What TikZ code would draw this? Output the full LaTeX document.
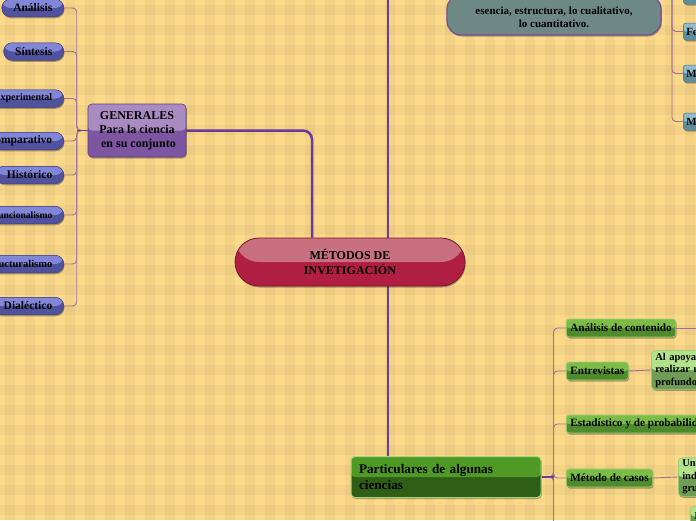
\documentclass[tikz,border=0pt]{standalone}
\usepackage{fontspec}
\setmainfont{Liberation Serif}
\usetikzlibrary{shadows}
\pgfdeclarelayer{bgpat}
\pgfdeclarelayer{conn}
\pgfsetlayers{bgpat,conn,main}
\definecolor{bgbase}{HTML}{FDDA8B}
\definecolor{mainline}{HTML}{6B3A9B}
\definecolor{subline}{HTML}{A0709A}
\definecolor{pilltop}{HTML}{8286D6}
\definecolor{pillbot}{HTML}{50529E}
\definecolor{pillborder}{HTML}{3E3F80}
\definecolor{gentop}{HTML}{A98BC1}
\definecolor{genbot}{HTML}{7E55A1}
\definecolor{genborder}{HTML}{5E3F80}
\definecolor{ctop}{HTML}{C86F80}
\definecolor{cbot}{HTML}{B01E41}
\definecolor{cborder}{HTML}{7A1530}
\definecolor{ptop}{HTML}{4F9A25}
\definecolor{pbot}{HTML}{2F5F17}
\definecolor{pborder}{HTML}{A6D67A}
\definecolor{gtop}{HTML}{7CBD48}
\definecolor{gbot}{HTML}{4E8B2C}
\definecolor{gborder}{HTML}{9ED070}
\definecolor{dtop}{HTML}{B2E28C}
\definecolor{dbot}{HTML}{6F9D55}
\definecolor{btop}{HTML}{93BDCC}
\definecolor{bbot}{HTML}{5E8E9C}
\definecolor{greyfill}{HTML}{6E8886}
\definecolor{greyborder}{HTML}{7A4A9A}
\tikzset{
  twotone/.style 2 args={fill=#2, path picture={\fill[#1] (path picture bounding box.north west) rectangle (path picture bounding box.east);}},
  shad/.style={drop shadow={shadow xshift=0.8pt, shadow yshift=-1.5pt, opacity=0.3, fill=black}},
  mainconn/.style={draw=mainline, line width=2.5pt},
  subconn/.style={draw=subline, line width=0.9pt, rounded corners=4},
  pill/.style={twotone={pilltop}{pillbot}, draw=pillborder, line width=0.5pt, rounded corners=8.5pt,
    minimum height=17.5pt, inner xsep=11.5pt, inner ysep=0pt, anchor=east, shad,
    font=\bfseries\fontsize{11.5}{13}\selectfont},
  gnode/.style={twotone={gtop}{gbot}, draw=gborder, line width=0.6pt, rounded corners=3pt,
    minimum height=18pt, inner xsep=4pt, inner ysep=0pt, anchor=west, shad,
    font=\bfseries\fontsize{11.2}{13}\selectfont},
  dnode/.style={twotone={dtop}{dbot}, draw=gborder, line width=0.5pt, rounded corners=4pt,
    inner xsep=4pt, inner ysep=2pt, anchor=west, align=left, shad,
    font=\bfseries\fontsize{10.5}{12.5}\selectfont},
  bnode/.style={twotone={btop}{bbot}, draw=bbot!80!black, line width=0.5pt, rounded corners=3pt,
    minimum height=17pt, text width=60pt, inner xsep=3pt, inner ysep=0pt, anchor=west, shad,
    font=\bfseries\fontsize{11}{13}\selectfont},
}
\begin{document}
\begin{tikzpicture}[x=1pt,y=-1pt]
\useasboundingbox (0,0) rectangle (696,520);
\clip (0,0) rectangle (696,520);
% background plaid
\begin{pgfonlayer}{bgpat}
\fill[bgbase] (0,0) rectangle (696,520);
\foreach \i in {0,...,34} { \fill[black,opacity=0.035] (\i*20+5,0) rectangle ++(10,520); }
\foreach \i in {0,...,26} { \fill[black,opacity=0.035] (0,\i*20+5) rectangle ++(696,10); }
\end{pgfonlayer}

% central
\node[twotone={ctop}{cbot}, draw=cborder, line width=0.8pt, rounded corners=24pt,
  minimum width=230pt, minimum height=48pt, align=center, shad,
  font=\bfseries\fontsize{12}{15}\selectfont] (central) at (350,262) {MÉTODOS DE\\INVETIGACIÓN};

% generales
\node[twotone={gentop}{genbot}, draw=genborder, line width=0.6pt, rounded corners=4pt,
  minimum width=98pt, minimum height=53pt, align=center, inner xsep=2pt, shad,
  font=\bfseries\fontsize{12}{14}\selectfont] (gen) at (137,130.5) {GENERALES\\Para la ciencia\\\ en su conjunto};

% particulares
\node[twotone={ptop}{pbot}, draw=pborder, line width=1pt, rounded corners=4pt,
  minimum width=190pt, minimum height=41pt, text width=174pt, align=left, inner xsep=8pt, shad,
  font=\bfseries\fontsize{13.2}{16}\selectfont] (partic) at (446,477) {Particulares de algunas\\ciencias};

% grey node at top
\node[fill=greyfill, draw=greyborder, line width=1.2pt, rounded corners=14pt,
  minimum width=214pt, minimum height=40pt, inner ysep=1pt, align=center, shad,
  font=\bfseries\fontsize{11}{13}\selectfont] (grey) at (554,15) {\mbox{}\\esencia, estructura, lo cualitativo,\\lo cuantitativo.};

% left pills
\node[pill] (ana) at (64,8) {Análisis};
\node[pill] (sin) at (64,51.5) {Síntesis};
\node[pill, font=\bfseries\fontsize{10}{12}\selectfont] (exp) at (64,98.5) {Experimental};
\node[pill] (comp) at (64,141) {Comparativo};
\node[pill] (his) at (64,175) {Histórico};
\node[pill, font=\bfseries\fontsize{9.5}{12}\selectfont] (fun) at (64,215) {Funcionalismo};
\node[pill, font=\bfseries\fontsize{10.5}{12}\selectfont] (estr) at (64,264) {Estructuralismo};
\node[pill] (dia) at (64,306) {Dialéctico};

% right green nodes
\node[gnode] (ac) at (566,328) {Análisis de contenido};
\node[gnode] (ent) at (566,371) {Entrevistas};
\node[gnode] (est) at (566,424) {Estadístico y de probabilidades};
\node[gnode] (mc) at (566,478) {Método de casos};
\node[dnode, text width=120pt] (apo) at (651,370) {Al apoyar\\realizar u\\profundo};
\node[dnode, text width=60pt] (uni) at (678,477) {Uni\\indi\\gru};
\node[dnode, text width=60pt, anchor=north west, minimum height=20pt] (ibox) at (690,506) {I};

% top right blue nodes
\node[bnode] (t0) at (683,-4.5) {};
\node[bnode] (fo) at (683,31.5) {Fo};
\node[bnode] (m1) at (683,73.5) {M};
\node[bnode] (m2) at (683,121.5) {M};
\coordinate (trbus) at (672,-20);
\coordinate (topend) at (388,-20);
\coordinate (acend) at (710,328);

\begin{pgfonlayer}{conn}
% main connectors
\draw[mainconn, rounded corners=9pt] (gen.east) -| ([xshift=-38pt]central.north);
\draw[mainconn] ([xshift=38pt]central.north) -- ([xshift=38pt]central.north |- topend);
\draw[mainconn] ([xshift=38pt]central.south) -- ([xshift=38pt]central.south |- partic.north);

% left sub connectors
\foreach \n in {ana,sin,exp,comp,his,fun,estr,dia}
  \draw[subconn] (gen.west) -- ++(-11,0) |- (\n.east);
\draw[draw=mainline, line width=1.4pt] (gen.west) -- ++(-11,0);

% right sub connectors
\foreach \n in {ac,ent,est,mc}
  \draw[subconn] (partic.east) -- ++(12,0) |- (\n.west);
\draw[subconn] (partic.east) ++(12,0) -- ++(0,80);
\draw[draw=mainline, line width=1.4pt] (partic.east) -- ++(12,0);
\draw[subconn] (ac.east) -- (acend);
\draw[subconn] (ent.east) -- (apo.west);
\draw[subconn] (mc.east) -- (uni.west);

% top-right connectors
\foreach \n in {t0,fo,m1,m2}
  \draw[subconn] (trbus) |- (\n.west);
\end{pgfonlayer}
\end{tikzpicture}
\end{document}
